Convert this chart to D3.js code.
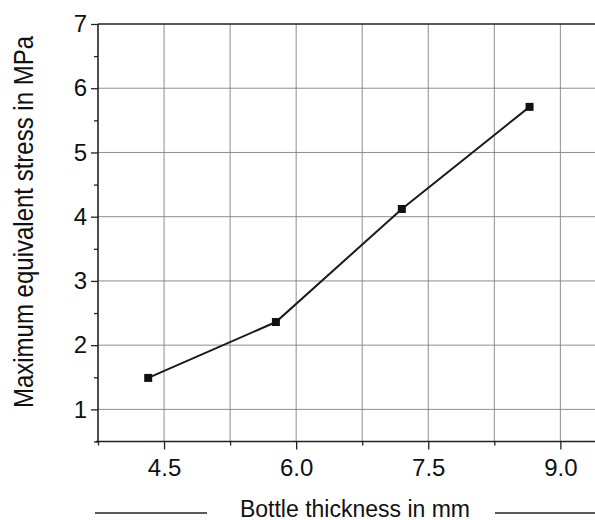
<!DOCTYPE html>
<html>
<head>
<meta charset="utf-8">
<script src="https://cdn.jsdelivr.net/npm/d3@7"></script>
<style>
  html, body { margin: 0; padding: 0; background: #fff; }
  svg { display: block; font-family: "Liberation Sans", Arial, sans-serif; }
</style>
</head>
<body>
<svg id="chart" width="595" height="520"></svg>
<script>
// Bottle wall thickness (mm) vs. maximum equivalent stress (MPa)
const thickness = [4.32, 5.77, 7.20, 8.65];
const stress = [1.49, 2.36, 4.12, 5.71];

const xMajorTicks = [4.5, 6.0, 7.5, 9.0];
const xMinorTicks = [3.75, 5.25, 6.75, 8.25];
const yMajorTicks = [1, 2, 3, 4, 5, 6, 7];
const yMinorTicks = [0.5, 1.5, 2.5, 3.5, 4.5, 5.5, 6.5];
const xTitle = "Bottle thickness in mm";
const yTitle = "Maximum equivalent stress in MPa";

const svg = d3.select("#chart");
const plotLeft = 98, plotTop = 24, plotBottom = 441.5, plotRight = 600;

const x = d3.scaleLinear().domain([3.75, 9.45]).range([plotLeft, plotRight]);
const y = d3.scaleLinear().domain([0.5, 7]).range([plotBottom, plotTop]);

// grid
const grid = svg.append("g").attr("stroke", "#808080").attr("stroke-width", 0.9);
grid.selectAll("line.v")
  .data(xMajorTicks.concat(xMinorTicks).filter(d => d > 3.75))
  .join("line")
  .attr("x1", d => x(d)).attr("x2", d => x(d))
  .attr("y1", plotTop).attr("y2", plotBottom);
grid.selectAll("line.h")
  .data(yMajorTicks.filter(d => d < 7))
  .join("line")
  .attr("x1", plotLeft).attr("x2", plotRight)
  .attr("y1", d => y(d)).attr("y2", d => y(d));

// axes
function styleAxis(g) {
  g.select(".domain").remove();
  g.selectAll(".tick line").attr("stroke", "#222").attr("stroke-width", 1.3);
  g.selectAll(".tick text").attr("fill", "#111")
    .style("font-size", "24px")
    .style("font-family", "Liberation Sans, Arial, sans-serif");
}

svg.append("g")
  .attr("transform", `translate(0,${plotBottom})`)
  .call(d3.axisBottom(x).tickValues(xMajorTicks).tickFormat(d3.format(".1f")).tickSize(8).tickPadding(9))
  .call(styleAxis);
svg.append("g")
  .attr("transform", `translate(0,${plotBottom})`)
  .call(d3.axisBottom(x).tickValues(xMinorTicks).tickFormat("").tickSize(4))
  .call(styleAxis);

svg.append("g")
  .attr("transform", `translate(${plotLeft},0)`)
  .call(d3.axisLeft(y).tickValues(yMajorTicks).tickFormat(d3.format("d")).tickSize(7).tickPadding(4))
  .call(styleAxis);
svg.append("g")
  .attr("transform", `translate(${plotLeft},0)`)
  .call(d3.axisLeft(y).tickValues(yMinorTicks).tickFormat("").tickSize(4))
  .call(styleAxis);

// frame lines: left, bottom, top
const frame = svg.append("g").attr("stroke", "#222").attr("stroke-width", 1.6);
frame.append("line").attr("x1", plotLeft).attr("x2", plotLeft).attr("y1", plotTop).attr("y2", plotBottom);
frame.append("line").attr("x1", plotLeft - 2).attr("x2", plotRight).attr("y1", plotBottom).attr("y2", plotBottom);
frame.append("line").attr("x1", plotLeft).attr("x2", plotRight).attr("y1", plotTop).attr("y2", plotTop);

// data line and square markers
const pts = thickness.map((t, i) => [t, stress[i]]);
svg.append("path")
  .datum(pts)
  .attr("fill", "none")
  .attr("stroke", "#1a1a1a")
  .attr("stroke-width", 2)
  .attr("d", d3.line().x(d => x(d[0])).y(d => y(d[1])));
const ms = 8;
svg.selectAll("rect.pt")
  .data(pts)
  .join("rect")
  .attr("x", d => x(d[0]) - ms / 2)
  .attr("y", d => y(d[1]) - ms / 2)
  .attr("width", ms).attr("height", ms)
  .attr("fill", "#111");

// x axis title with flanking rules
svg.append("text")
  .attr("x", 355).attr("y", 516.5)
  .attr("text-anchor", "middle")
  .style("font-size", "23px")
  .attr("fill", "#111")
  .text(xTitle);
svg.append("line").attr("x1", 95).attr("x2", 207).attr("y1", 513).attr("y2", 513)
  .attr("stroke", "#222").attr("stroke-width", 1.6);
svg.append("line").attr("x1", 495).attr("x2", 600).attr("y1", 513).attr("y2", 513)
  .attr("stroke", "#222").attr("stroke-width", 1.6);

// y axis title
svg.append("text")
  .attr("transform", "translate(33,222) scale(1.15,1) rotate(-90)")
  .attr("text-anchor", "middle")
  .style("font-size", "24px")
  .attr("fill", "#111")
  .text(yTitle);
</script>
</body>
</html>
